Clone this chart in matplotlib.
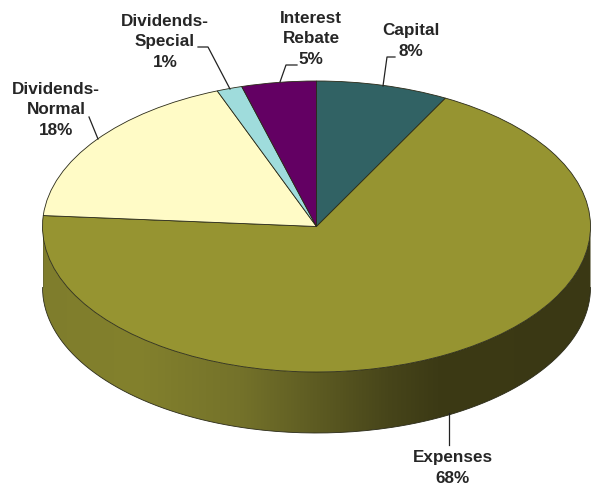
import numpy as np
from matplotlib import pyplot as plt
from matplotlib.colors import LinearSegmentedColormap
from matplotlib.patches import PathPatch
from matplotlib.path import Path

categories = ["Capital", "Expenses", "Dividends-\nNormal", "Dividends-\nSpecial", "Interest\nRebate"]
shares = [7.8, 68.4, 17.9, 1.5, 4.4]  # slice sizes as drawn
printed = ["8%", "68%", "18%", "1%", "5%"]  # what the labels say
colors = ["#316264", "#969431", "#FFFBC6", "#9FDCDC", "#630063"]

W, H = 591, 490
CX, CY, RX, RY, DEPTH = 316.5, 226.5, 274, 145.5, 61

plt.rcParams["font.family"] = ["Liberation Sans", "DejaVu Sans"]

fig = plt.figure(figsize=(W / 100, H / 100), dpi=100)
ax = fig.add_axes((0, 0, 1, 1))


def ux(px):
    return (px - CX) / RX


def uy(py):
    return (CY - py) / RY


ax.pie(
    shares,
    colors=colors,
    startangle=90,
    counterclock=False,
    radius=1,
    wedgeprops={"edgecolor": "#2a2a18", "linewidth": 0.6, "zorder": 5},
)
ax.set_aspect("auto")
ax.set_xlim(ux(0), ux(W))
ax.set_ylim(uy(H), uy(0))
ax.axis("off")

# side wall of the disc, lower half of the ellipse pushed down
d = DEPTH / RY
t = np.linspace(np.pi, 2 * np.pi, 200)
xs = np.r_[np.cos(t), np.cos(t[::-1])]
ys = np.r_[np.sin(t) - d, np.sin(t[::-1])]
wall = PathPatch(Path(np.c_[xs, ys]), fc="none", ec="none", zorder=2)
ax.add_patch(wall)
shade = LinearSegmentedColormap.from_list(
    "wall",
    [
        (0.0, "#7f7d2c"),
        (0.17, "#83812d"),
        (0.36, "#74722a"),
        (0.50, "#5d5b22"),
        (0.63, "#47451a"),
        (0.72, "#3c3a15"),
        (1.0, "#3a3814"),
    ],
)
im = ax.imshow(
    np.linspace(0, 1, 256)[None, :],
    cmap=shade,
    extent=(-1, 1, -1 - d, 0),
    aspect="auto",
    zorder=2,
)
im.set_clip_path(wall)
ax.set_xlim(ux(0), ux(W))
ax.set_ylim(uy(H), uy(0))
ax.plot(np.cos(t), np.sin(t) - d, color="#2a2a18", lw=0.6, zorder=3)
ax.plot([-1, -1], [0, -d], color="#666633", lw=0.5, zorder=3)
ax.plot([1, 1], [0, -d], color="#2a2a18", lw=0.5, zorder=3)

# label centres and leader lines, in picture pixels
label_pos = [(411, 41), (453, 468), (56, 110), (165, 42), (311, 39)]
leaders = [
    [(383, 86), (387, 57), (395, 57)],
    [(449, 413), (449, 445)],
    [(98, 139), (89, 117)],
    [(230, 89), (208, 47), (198, 47)],
    [(280, 82), (286, 65), (297, 65)],
]

for name, pct, (lx, ly), line in zip(categories, printed, label_pos, leaders):
    ax.text(
        ux(lx),
        uy(ly),
        f"{name}\n{pct}",
        ha="center",
        va="center",
        fontsize=12.3,
        fontweight="bold",
        color="#262626",
        linespacing=1.48,
        zorder=8,
    )
    pts = np.array(line, dtype=float)
    ax.plot(ux(pts[:, 0]), uy(pts[:, 1]), color="#222222", lw=0.9, zorder=7)

fig.savefig("out.png", dpi=100)
